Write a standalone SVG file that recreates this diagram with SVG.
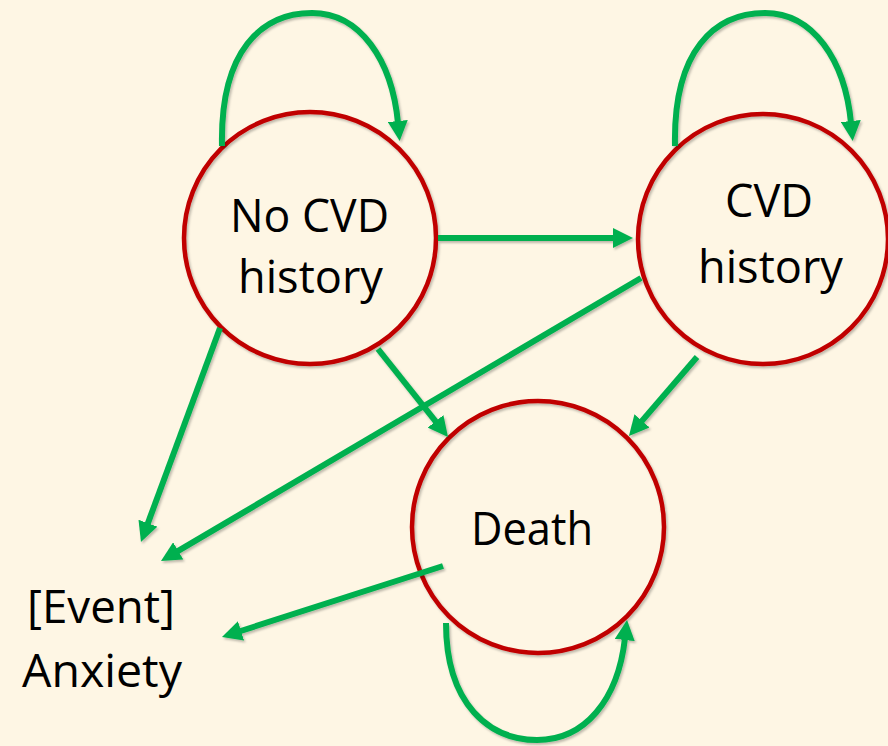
<svg xmlns="http://www.w3.org/2000/svg" width="888" height="746" viewBox="0 0 888 746">
<defs>
<filter id="sh" x="-10%" y="-10%" width="120%" height="120%">
<feDropShadow dx="1.5" dy="2" stdDeviation="1.2" flood-color="#000" flood-opacity="0.25"/>
</filter>
<marker id="ah" viewBox="0 -10 20 20" refX="2" refY="0" markerWidth="20" markerHeight="20" markerUnits="userSpaceOnUse" orient="auto">
<path d="M0,-10 L20,0 L0,10 z" fill="#00B050"/>
</marker>
</defs>
<style>
.node{fill:none;stroke:#C00000;stroke-width:4.5}
.edge{fill:none;stroke:#00B050;stroke-width:6;marker-end:url(#ah)}
.lbl{font-family:"Open Sans","Noto Sans",sans-serif;font-size:46px;fill:#000}
</style>
<rect width="888" height="746" fill="#FEF6E4"/>
<g id="node-nocvd">
<circle class="node" cx="310" cy="238" r="126" filter="url(#sh)"/>
<text class="lbl" x="230" y="232" textLength="159" lengthAdjust="spacingAndGlyphs">No CVD</text>
<text class="lbl" x="238" y="293" textLength="145" lengthAdjust="spacingAndGlyphs">history</text>
</g>
<g id="node-cvd">
<circle class="node" cx="763" cy="239" r="125" filter="url(#sh)"/>
<text class="lbl" x="725" y="217" textLength="88" lengthAdjust="spacingAndGlyphs">CVD</text>
<text class="lbl" x="698" y="283" textLength="145" lengthAdjust="spacingAndGlyphs">history</text>
</g>
<g id="node-death">
<circle class="node" cx="538" cy="527" r="126" filter="url(#sh)"/>
<text class="lbl" x="471" y="545" textLength="122" lengthAdjust="spacingAndGlyphs">Death</text>
</g>
<g id="node-anxiety">
<text class="lbl" x="27" y="623" textLength="148" lengthAdjust="spacingAndGlyphs">[Event]</text>
<text class="lbl" x="22" y="687" textLength="160" lengthAdjust="spacingAndGlyphs">Anxiety</text>
</g>
<g id="connectors" filter="url(#sh)">
<path class="edge" d="M222,146 C220,50 262,13 312,13 C360,13 392,60 398,123"/>
<path class="edge" d="M675,146 C673,50 715,13 765,13 C813,13 845,60 851,123"/>
<path class="edge" d="M446,623 C446,705 490,740 537,740 C585,740 618,700 625,638"/>
<path class="edge" d="M438,238 L615,238"/>
<path class="edge" d="M220,328 L147.2,525.1"/>
<path class="edge" d="M378,349 L436.8,422.9"/>
<path class="edge" d="M641,278 L176.5,551.9"/>
<path class="edge" d="M697,357 L640.7,422.4"/>
<path class="edge" d="M443,566 L239.1,631.5"/>
</g>
</svg>
